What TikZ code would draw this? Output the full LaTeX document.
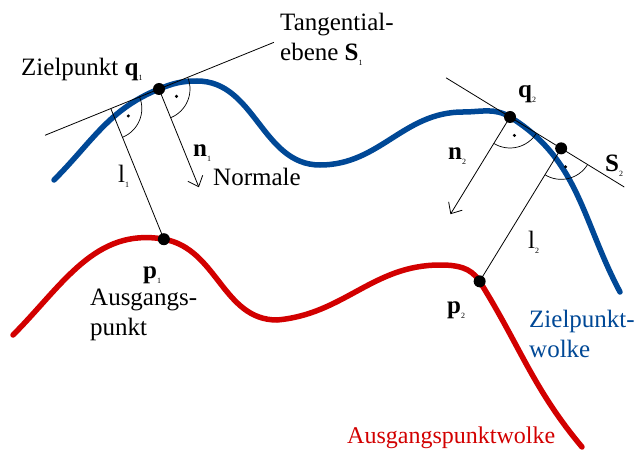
\documentclass[tikz,border=0pt]{standalone}
\usepackage{fontspec}
\setmainfont{Liberation Serif}
\usepackage{tikz}
\usetikzlibrary{calc, arrows.meta}
\definecolor{zielblau}{RGB}{0,72,150}
\definecolor{ausrot}{RGB}{210,0,0}
\newcommand\vek[1]{\textbf{#1}}
\newcommand\idx[1]{\raisebox{-5pt}{\fontsize{8}{8}\selectfont #1}}
\tikzset{
  wolke/.style={line width=5.5pt, line cap=round},
  hilf/.style={line width=0.8pt},
  normal/.style={hilf, -{Straight Barb[length=9pt,width=16pt]}},
  punkt/.style={circle, fill, inner sep=0pt, minimum size=12pt},
  rw/.style={line width=0.7pt},
  lbl/.style={font=\fontsize{25}{30}\selectfont, inner sep=0pt,
              anchor=base west, align=left}
}
% rechter Winkel: Fusspunkt, Richtung der Tangente
\newcommand\rwinkel[2]{%
  \draw[rw] ($(#1)+(#2:31)$) arc[start angle=#2, end angle=#2-90, radius=31];
  \fill ($(#1)+(#2-45:19)$) circle[radius=1.7];}

\begin{document}
\begin{tikzpicture}[x=1pt, y=1pt]
  \useasboundingbox (0,0) rectangle (636,453);
  % Zielpunkte, Tangentialebenen, Ausgangspunkte
  \coordinate (q1) at (159,364);
  \coordinate (q2) at (510,336);
  \coordinate (t1a) at ($(q1)+(202.1:123)$);
  \coordinate (t1b) at ($(q1)+(22.1:124)$);
  \coordinate (f1) at ($(q1)+(202.1:52)$);
  \coordinate (p1) at ($(f1)+(-67.9:141)$);
  \coordinate (n1) at ($(q1)+(-67.9:106)$);
  \coordinate (t2a) at ($(q2)+(148.5:75)$);
  \coordinate (t2b) at ($(q2)+(-31.5:134)$);
  \coordinate (f2) at ($(q2)+(-31.5:60)$);
  \coordinate (p2) at ($(f2)+(-121.5:156)$);
  \coordinate (n2) at ($(q2)+(-121.5:114)$);

  % Punktwolken
  \draw[wolke, zielblau] (54,273) to[out=45,in=202.1] (q1) to[out=22.1,in=180] (197,372)
    to[out=0,in=180] (320,288) to[out=0,in=180] (463,341) to[out=0,in=148.5] (q2)
    to[out=-31.5,in=118] (620,161);
  \draw[wolke, ausrot] (13,118) to[out=45,in=170] (p1) to[out=-10,in=180] (277,133)
    to[out=5,in=180] (440,188) to[out=0,in=122] (p2) to[out=-58,in=130] (582,6);

  % Tangenten, Normalen, Abstaende
  \draw[hilf] (t1a) -- (t1b);
  \draw[hilf] (t2a) -- (t2b);
  \draw[normal] (q1) -- (n1);
  \draw[normal] (q2) -- (n2);
  \draw[hilf] (f1) -- (p1);
  \draw[hilf] (f2) -- (p2);
  \rwinkel{f1}{22.1} \rwinkel{q1}{22.1}
  \rwinkel{q2}{-31.5} \rwinkel{f2}{-31.5}
  \foreach \p in {q1,q2,f2,p1,p2} \node[punkt] (dot-\p) at (\p) {};

  % Beschriftung (mehrzeilig: Grundlinie der letzten Zeile)
  \node[lbl] (tang) at (280,392) {Tangential-\\ebene \vek{S}\idx{1}};
  \node[lbl] (ziel1) at (21,377) {Zielpunkt \vek{q}\idx{1}};
  \node[lbl] (lbl-n1) at (193,296) {\vek{n}\idx{1}};
  \node[lbl] (norm) at (213,268) {Normale};
  \node[lbl] (lbl-l1) at (118,270) {l\idx{1}};
  \node[lbl] (lbl-p1) at (143,175) {\vek{p}\idx{1}};
  \node[lbl] (ausg1) at (90,118) {Ausgangs-\\punkt};
  \node[lbl] (lbl-q2) at (518,355) {\vek{q}\idx{2}};
  \node[lbl] (lbl-n2) at (448,293) {\vek{n}\idx{2}};
  \node[lbl] (lbl-S2) at (605,281) {\vek{S}\idx{2}};
  \node[lbl] (lbl-l2) at (528,205) {l\idx{2}};
  \node[lbl] (lbl-p2) at (447,140) {\vek{p}\idx{2}};
  \node[lbl, text=zielblau] (zwolke) at (529,96) {Zielpunkt-\\wolke};
  \node[lbl, text=ausrot, font=\fontsize{24}{29}\selectfont] (awolke) at (347,10)
    {Ausgangspunktwolke};
\end{tikzpicture}
\end{document}
